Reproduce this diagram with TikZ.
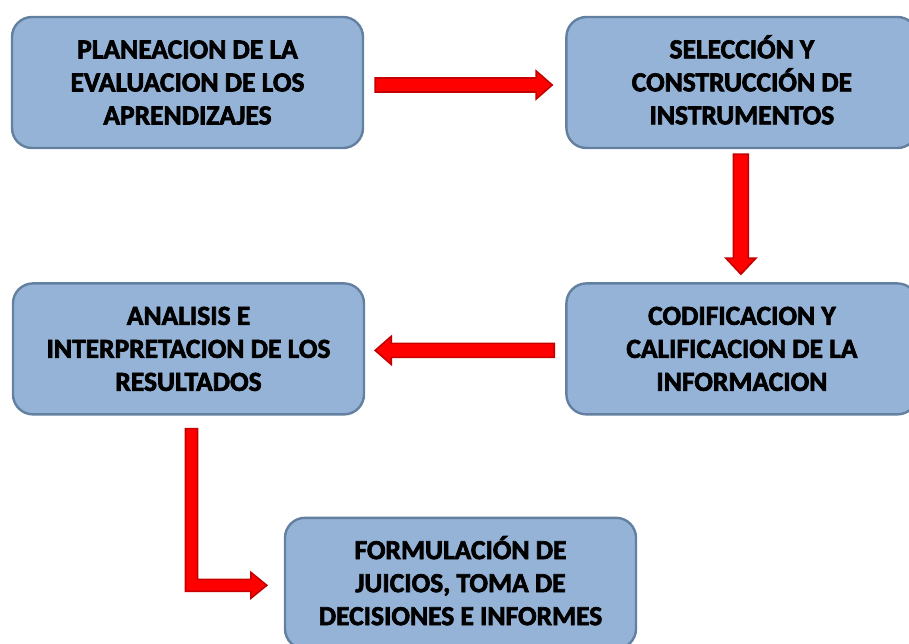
\documentclass[tikz,border=0pt]{standalone}
\usepackage{fontspec}
\setmainfont{Carlito}[BoldFont={Carlito Bold},BoldFeatures={FakeBold=2.5}]
\usetikzlibrary{positioning,calc}

\definecolor{boxfill}{RGB}{149,179,215}
\definecolor{boxline}{RGB}{100,128,160}
\definecolor{arrowline}{RGB}{196,0,0}

\newcommand{\boxwidth}{351pt}
\newcommand{\boxheight}{131pt}
\newcommand{\colgap}{201pt}
\newcommand{\rowgap}{133pt}
\newcommand{\headlen}{16pt}
% first line with accent: keep it as high as a plain capital line
\newcommand{\capline}[1]{\vphantom{A}\smash{#1}}

\tikzstyle{stage}=[fill=boxfill,draw=boxline,line width=2.4pt,shape=rectangle,
                   rounded corners=20pt,align=center,text=black,
                   minimum width=\boxwidth,minimum height=\boxheight,
                   font=\bfseries\fontsize{27.5}{33}\selectfont]
\tikzstyle{blockarrow}=[fill=red,draw=arrowline,line width=1.6pt,line join=miter]

\begin{document}
\begin{tikzpicture}
\useasboundingbox (0,0) rectangle (909pt,-644pt);

\node [stage] (plan) at (187.5pt,-82.5pt) {PLANEACION DE LA\\EVALUACION DE LOS\\APRENDIZAJES};
\node [stage, right= \colgap of plan] (selec) {\capline{SELECCIÓN Y}\\CONSTRUCCIÓN DE\\INSTRUMENTOS};
\node [stage, below= \rowgap of selec] (codif) {CODIFICACION Y\\CALIFICACION DE LA\\INFORMACION};
\node [stage, below= \rowgap of plan, xshift=1pt] (anal) {ANALISIS E\\INTERPRETACION DE LOS\\RESULTADOS};
\node [stage, below= 101pt of anal, xshift=272pt] (formul) {\capline{FORMULACIÓN DE}\\JUICIOS, TOMA DE\\DECISIONES E INFORMES};

% plan -> selec
\coordinate (a1s) at ($(plan.east)+(11pt,-2.5pt)$);
\coordinate (a1e) at ($(selec.west)+(-13pt,-2.5pt)$);
\draw [blockarrow] ($(a1s)+(0,7pt)$) -- ($(a1e)+(-\headlen,7pt)$) -- ++(0,7pt) -- (a1e)
      -- ++(-\headlen,-14pt) -- ++(0,7pt) -- ($(a1s)+(0,-7pt)$) -- cycle;

% selec -> codif
\coordinate (a2s) at ($(selec.south)+(-1pt,-5pt)$);
\coordinate (a2e) at ($(codif.north)+(-1pt,8pt)$);
\draw [blockarrow] ($(a2s)+(-7.5pt,0)$) -- ($(a2e)+(-7.5pt,\headlen)$) -- ++(-7.5pt,0) -- (a2e)
      -- ++(15pt,\headlen) -- ++(-7.5pt,0) -- ($(a2s)+(7.5pt,0)$) -- cycle;

% codif -> anal
\coordinate (a3s) at ($(codif.west)+(-11pt,-1.5pt)$);
\coordinate (a3e) at ($(anal.east)+(10pt,-1.5pt)$);
\draw [blockarrow] ($(a3s)+(0,7pt)$) -- ($(a3e)+(\headlen,7pt)$) -- ++(0,7pt) -- (a3e)
      -- ++(\headlen,-14pt) -- ++(0,7pt) -- ($(a3s)+(0,-7pt)$) -- cycle;

% anal -> formul (elbow)
\coordinate (a4s) at ($(anal.south)+(3pt,-13pt)$);
\coordinate (a4e) at ($(formul.west)+(-17pt,-2pt)$);
\draw [blockarrow] ($(a4s)+(-6pt,0)$) -- ($(a4s |- a4e)+(-6pt,-6pt)$) -- ($(a4e)+(-\headlen,-6pt)$)
      -- ++(0,-7pt) -- (a4e) -- ++(-\headlen,13pt) -- ++(0,-7pt)
      -- ($(a4s |- a4e)+(6pt,6pt)$) -- ($(a4s)+(6pt,0)$) -- cycle;
\end{tikzpicture}
\end{document}
